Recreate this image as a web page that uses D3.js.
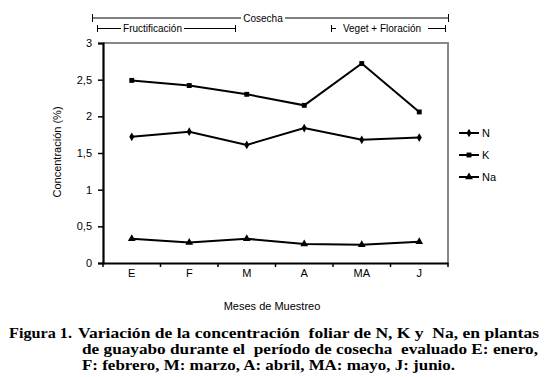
<!DOCTYPE html>
<html>
<head>
<meta charset="utf-8">
<script src="https://cdn.jsdelivr.net/npm/d3@7"></script>
<style>
  body { margin: 0; background: #fff; }
  text { font-family: "Liberation Sans", Arial, sans-serif; fill: #000; }
  .cap { font-family: "Liberation Serif", "DejaVu Serif", serif; font-weight: bold; font-size: 15px; white-space: pre; }
</style>
</head>
<body>
<svg id="chart" width="545" height="377"></svg>
<script>
// data
var months = ["E", "F", "M", "A", "MA", "J"];
var nVals  = [1.72, 1.79, 1.61, 1.84, 1.68, 1.71];
var kVals  = [2.49, 2.42, 2.30, 2.15, 2.72, 2.06];
var naVals = [0.33, 0.28, 0.33, 0.26, 0.25, 0.29];
var yTicks = [0, 0.5, 1, 1.5, 2, 2.5, 3];

var series = [
  {name: "N", values: nVals, symbol: d3.symbolDiamond, size: 22},
  {name: "K", values: kVals, symbol: d3.symbolSquare, size: 24},
  {name: "Na", values: naVals, symbol: d3.symbolTriangle, size: 26}
];

var margin = {top: 43, left: 103, right: 448, bottom: 263};
var svg = d3.select("#chart");

var x = d3.scaleBand().domain(months).range([margin.left, margin.right]);
var y = d3.scaleLinear().domain([0, 3]).range([margin.bottom, margin.top]);

// frame: gray top and right
svg.append("path")
    .attr("d", "M" + margin.left + "," + margin.top + "H" + margin.right + "V" + margin.bottom)
    .attr("fill", "none").attr("stroke", "#888").attr("stroke-width", 2);

// y axis
var yAxis = svg.append("g")
    .attr("transform", "translate(" + margin.left + ",0)")
    .call(d3.axisLeft(y).tickValues(yTicks).tickSize(5).tickPadding(6)
        .tickFormat(function (d) { return String(d).replace(".", ","); }));
yAxis.select(".domain").attr("stroke-width", 2.2);
yAxis.selectAll(".tick line").attr("stroke-width", 1.5);
yAxis.selectAll("text").attr("font-size", 11).attr("font-family", null);

// x axis
var xAxis = svg.append("g")
    .attr("transform", "translate(0," + margin.bottom + ")")
    .call(d3.axisBottom(x).tickSize(0).tickPadding(6));
xAxis.select(".domain").attr("stroke-width", 1.8);
xAxis.selectAll("text").attr("font-size", 11).attr("font-family", null);
xAxis.selectAll(".sep")
    .data(months.map(function (m) { return x(m); }).concat([margin.right]))
    .enter().append("line")
    .attr("class", "sep")
    .attr("x1", function (d) { return d; }).attr("x2", function (d) { return d; })
    .attr("y1", 0).attr("y2", 4)
    .attr("stroke", "#000").attr("stroke-width", 1.5);

// lines and markers
var line = d3.line()
    .x(function (d, i) { return x(months[i]) + x.bandwidth() / 2; })
    .y(function (d) { return y(d); });

series.forEach(function (s) {
  svg.append("path")
      .attr("d", line(s.values))
      .attr("fill", "none").attr("stroke", "#000").attr("stroke-width", 2);
  svg.selectAll(".m-" + s.name)
      .data(s.values)
      .enter().append("path")
      .attr("d", d3.symbol().type(s.symbol).size(s.size))
      .attr("transform", function (d, i) {
        return "translate(" + (x(months[i]) + x.bandwidth() / 2) + "," + y(d) + ")";
      })
      .attr("fill", "#000");
});

// legend
var legend = svg.append("g");
series.forEach(function (s, i) {
  var ly = 133 + i * 22;
  legend.append("line").attr("x1", 459).attr("x2", 479).attr("y1", ly).attr("y2", ly)
      .attr("stroke", "#000").attr("stroke-width", 2);
  legend.append("path").attr("d", d3.symbol().type(s.symbol).size(s.size)())
      .attr("transform", "translate(469," + ly + ")");
  legend.append("text").attr("x", 482).attr("y", ly + 4).attr("font-size", 11).text(s.name);
});

// axis titles
svg.append("text").attr("x", 272).attr("y", 310).attr("text-anchor", "middle")
    .attr("font-size", 11).text("Meses de Muestreo");
svg.append("text").attr("transform", "translate(61,152) rotate(-90)").attr("text-anchor", "middle")
    .attr("font-size", 11).text("Concentración (%)");

// period brackets
function bracket(x0, x1, yy, h, label, tx0, tx1) {
  var g = svg.append("g").attr("stroke", "#000").attr("stroke-width", 1);
  g.append("line").attr("x1", x0).attr("x2", x0).attr("y1", yy - h).attr("y2", yy + h);
  g.append("line").attr("x1", x1).attr("x2", x1).attr("y1", yy - h).attr("y2", yy + h);
  g.append("line").attr("x1", x0).attr("x2", tx0).attr("y1", yy).attr("y2", yy);
  g.append("line").attr("x1", tx1).attr("x2", x1).attr("y1", yy).attr("y2", yy);
  svg.append("text").attr("x", (tx0 + tx1) / 2).attr("y", yy + 3.5)
      .attr("text-anchor", "middle").attr("font-size", 10).text(label);
}
bracket(92.5, 448.5, 18, 4, "Cosecha", 241, 285);
bracket(97.5, 235.5, 28.5, 3.5, "Fructificación", 121, 184);
bracket(331.5, 445.5, 28.5, 3.5, "Veget + Floración", 336, 428);

// caption
var cap = svg.append("g");
cap.append("text").attr("class", "cap").attr("x", 9).attr("y", 338).text("Figura 1.")
    .attr("textLength", 63).attr("lengthAdjust", "spacingAndGlyphs");
cap.append("text").attr("class", "cap").attr("x", 78).attr("y", 338)
    .text("Variación de la concentración  foliar de N, K y  Na, en plantas")
    .attr("textLength", 461).attr("lengthAdjust", "spacingAndGlyphs");
cap.append("text").attr("class", "cap").attr("x", 82).attr("y", 354)
    .text("de guayabo durante el  período de cosecha  evaluado E: enero,")
    .attr("textLength", 456).attr("lengthAdjust", "spacingAndGlyphs");
cap.append("text").attr("class", "cap").attr("x", 82).attr("y", 370)
    .text("F: febrero, M: marzo, A: abril, MA: mayo, J: junio.")
    .attr("textLength", 373).attr("lengthAdjust", "spacingAndGlyphs");
</script>
</body>
</html>
